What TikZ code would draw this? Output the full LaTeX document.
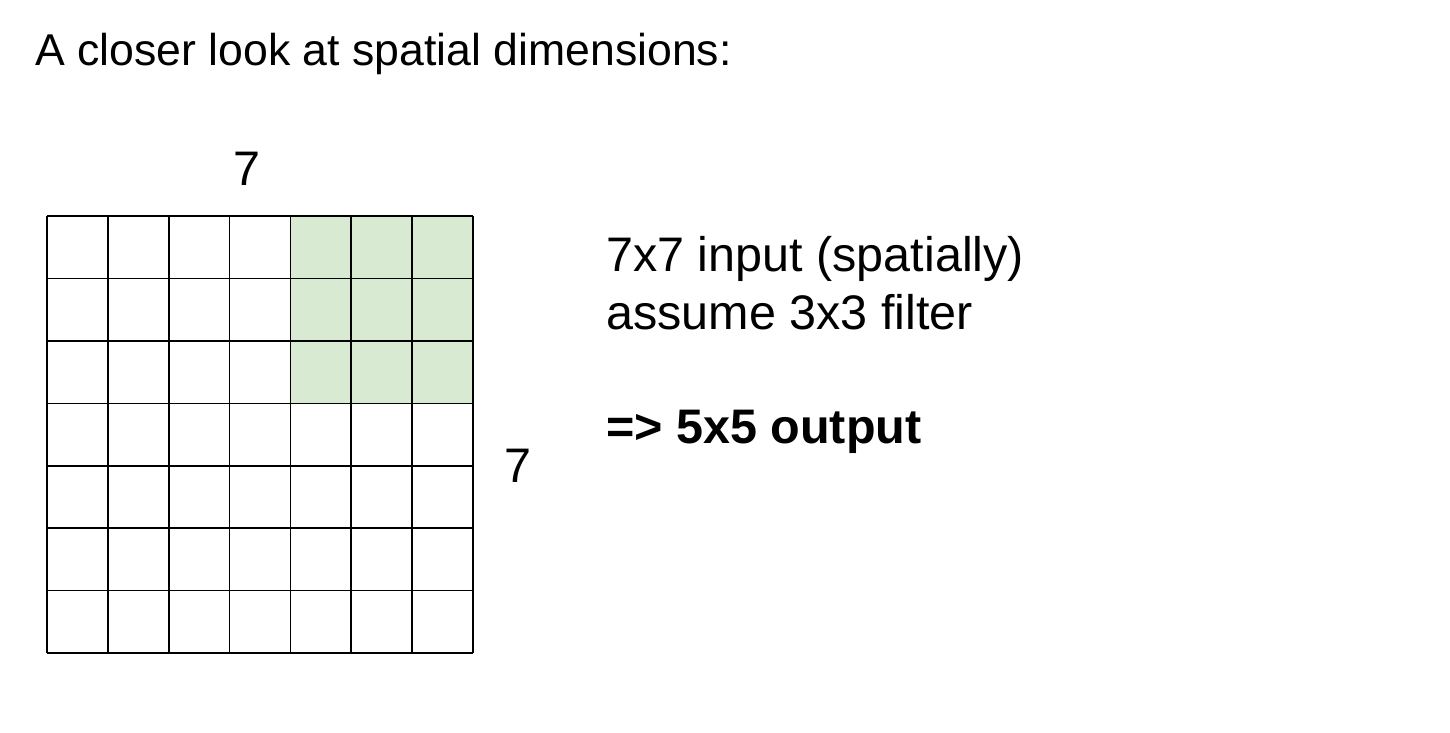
\documentclass[tikz,border=0pt]{standalone}
\usepackage{fontspec}
\setmainfont{Liberation Sans}
\definecolor{filtergreen}{HTML}{D9EAD3}
\tikzset{
  lbl/.style={inner sep=0pt, anchor=base west, font=\fontsize{48.5}{55}\selectfont},
  cell/.style={draw=black, line width=1.6pt},
}
\begin{document}
\begin{tikzpicture}[x=1pt,y=-1pt]
\useasboundingbox (0,0) rectangle (1450,732);
\node[lbl, font=\fontsize{44.6}{50}\selectfont] (title) at (35,65) {A closer look at spatial dimensions:};
% filter region
\fill[filtergreen] (291,216) rectangle (473,403);
% grid
\foreach \i in {0,...,7} {
  \draw[cell] ({47+\i*60.857},216) -- ({47+\i*60.857},653);
  \draw[cell] (47,{216+\i*62.43}) -- (473,{216+\i*62.43});
}
\node[lbl] (topseven) at (233,185) {7};
\node[lbl] (rightseven) at (504,482) {7};
\node[lbl] (line1) at (606,271) {7x7 input (spatially)};
\node[lbl] (line2) at (606,329) {assume 3x3 filter};
\node[lbl, font=\fontsize{48.5}{55}\selectfont\bfseries] (line3) at (606,443) {=> 5x5 output};
\end{tikzpicture}
\end{document}
